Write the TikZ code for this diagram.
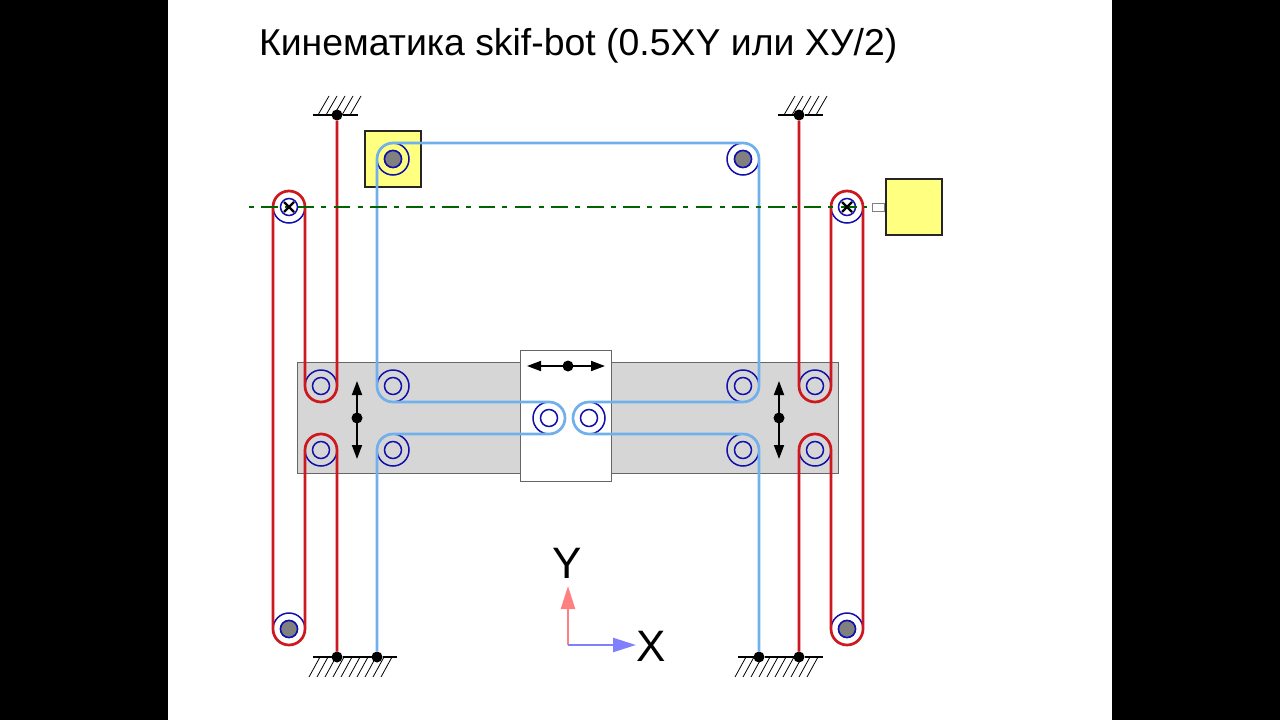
\documentclass[tikz,border=0pt]{standalone}
\usepackage{fontspec}
\setmainfont{Liberation Sans}
\usetikzlibrary{arrows.meta, calc, positioning}

\definecolor{beltred}{RGB}{204,24,30}
\definecolor{beltblue}{RGB}{112,176,236}
\definecolor{axisred}{RGB}{255,128,128}
\definecolor{axisblue}{RGB}{128,128,255}
\definecolor{pulleyblue}{RGB}{16,16,170}
\definecolor{motoryellow}{RGB}{255,255,128}
\definecolor{plategray}{RGB}{214,214,214}
\definecolor{axlegreen}{RGB}{0,100,0}

\tikzset{
  pulley/.style={draw=pulleyblue, circle, line width=1.5pt, minimum size=32pt, inner sep=0pt, outer sep=0pt},
  hub/.style={draw=pulleyblue, circle, line width=1.5pt, minimum size=17pt, inner sep=0pt, outer sep=0pt},
  pivot/.style={circle, fill=black, minimum size=11pt, inner sep=0pt, outer sep=0pt},
  motorbox/.style={draw=black!85, fill=motoryellow, line width=1.5pt, minimum size=56pt, inner sep=0pt},
  redbelt/.style={draw=beltred, line width=2.7pt},
  bluebelt/.style={draw=beltblue, line width=2.7pt},
  ground/.style={draw=black, line width=1.9pt},
  hatch/.style={draw=black, line width=0.8pt},
  motion/.style={draw=black, line width=1.8pt, {Triangle[length=14pt,width=10pt]}-{Triangle[length=14pt,width=10pt]}},
  axisarrow/.style={line width=2.4pt, -{Triangle[length=23pt,width=14pt]}},
}

\begin{document}
\begin{tikzpicture}[x=1pt, y=-1pt]

    \useasboundingbox (0,0) rectangle (1280,720);
    \fill[black] (0,0) rectangle (1280,720);
    \fill[white] (168,0) rectangle (1112,720);

    \node[anchor=west, font=\fontsize{37.4}{40}\selectfont] (title) at (255.5,45.5) {Кинематика skif-bot (0.5XY или ХУ/2)};

    % Plates of the moving beam and carriage
    \node[draw=black!60, fill=plategray, line width=1pt, minimum width=541pt, minimum height=111pt, inner sep=0pt] (beam) at (567.5,417.5) {};
    \node[draw=black!60, fill=white, line width=1pt, minimum width=91pt, minimum height=131pt, inner sep=0pt] (carriage) at (565.5,415.5) {};

    % Motors
    \node[motorbox] (motora) at (393,159) {};
    \node[motorbox] (motorb) at (914,207) {};
    \node[draw=black!50, fill=white, line width=1pt, minimum width=12pt, minimum height=8pt, inner sep=0pt, left=0pt of motorb] (shaft) {};

    % Pulleys
    \foreach \pname/\px/\py in {dl/393/159, dr/743/159, sl/289/207, sr/847/207, el/289/629, er/847/629,
        ula/321/386, ulb/393/386, lla/321/450, llb/393/450, urb/743/386, ura/815/386, lrb/743/450, lra/815/450,
        cl/549/418, cr/589/418} {
        \node[pulley] (\pname) at (\px,\py) {};
        \node[hub] (\pname hub) at (\px,\py) {};
    }
    \foreach \pname in {dl, dr, el, er} {
        \node[hub, fill=black!50] (\pname fill) at (\pname) {};
    }

    % Frame fixings
    \node[pivot] (fixa) at (337,115) {};
    \node[pivot] (fixb) at (799,115) {};
    \node[pivot] (fixc) at (337,657) {};
    \node[pivot] (fixd) at (377,657) {};
    \node[pivot] (fixe) at (759,657) {};
    \node[pivot] (fixf) at (799,657) {};

    \foreach \hx in {318,326,...,350} {
        \draw[hatch] (\hx,115) -- ++(11,-19);
    }
    \foreach \hx in {784,792,...,816} {
        \draw[hatch] (\hx,115) -- ++(11,-19);
    }
    \foreach \hx in {320,328,...,392} {
        \draw[hatch] (\hx,657) -- ++(-11,20);
    }
    \foreach \hx in {746,754,...,818} {
        \draw[hatch] (\hx,657) -- ++(-11,20);
    }
    \draw[ground] (313,115) -- (fixa) -- (358,115);
    \draw[ground] (778,115) -- (fixb) -- (823,115);
    \draw[ground] (313,657) -- (fixc) -- (fixd) -- (397,657);
    \draw[ground] (738,657) -- (fixe) -- (fixf) -- (823,657);

    % Red belts
    \draw[redbelt] (fixa) -- (ula.east) arc[start angle=0, end angle=180, radius=16]
        -- (sl.east) arc[start angle=0, end angle=-180, radius=16]
        -- (el.west) arc[start angle=180, end angle=0, radius=16]
        -- (lla.west) arc[start angle=180, end angle=360, radius=16]
        -- (fixc);
    \draw[redbelt] (fixb) -- (ura.west) arc[start angle=180, end angle=0, radius=16]
        -- (sr.west) arc[start angle=180, end angle=360, radius=16]
        -- (er.east) arc[start angle=0, end angle=180, radius=16]
        -- (lra.east) arc[start angle=0, end angle=-180, radius=16]
        -- (fixf);

    % Blue belt
    \draw[bluebelt] (fixd) -- (llb.west) arc[start angle=180, end angle=270, radius=16]
        -- (cl.south) arc[start angle=90, end angle=-90, radius=16]
        -- (ulb.south) arc[start angle=90, end angle=180, radius=16]
        -- (dl.west) arc[start angle=180, end angle=270, radius=16]
        -- (dr.north) arc[start angle=270, end angle=360, radius=16]
        -- (urb.east) arc[start angle=0, end angle=90, radius=16]
        -- (cr.north) arc[start angle=270, end angle=90, radius=16]
        -- (lrb.north) arc[start angle=270, end angle=360, radius=16]
        -- (fixe);

    % Shaft line
    \draw[axlegreen, line width=2.2pt, dash pattern=on 16.5pt off 7.3pt on 5pt off 7.4pt, dash phase=23.8pt] (249,207) -- (867,207);

    % Crosses on the driven shaft
    \foreach \pname in {sl, sr} {
        \draw[line width=2.2pt] ($(\pname)+(-5,-5)$) -- ($(\pname)+(5,5)$);
        \draw[line width=2.2pt] ($(\pname)+(-5,5)$) -- ($(\pname)+(5,-5)$);
    }

    % Motion arrows
    \coordinate (beamltop) at (357,381);
    \coordinate (beamlbot) at (357,459);
    \coordinate (beamrtop) at (779,381);
    \coordinate (beamrbot) at (779,459);
    \coordinate (cartleft) at (527,366);
    \coordinate (cartright) at (605,366);
    \draw[motion] (beamltop) -- (beamlbot);
    \draw[motion] (beamrtop) -- (beamrbot);
    \draw[motion] (cartleft) -- (cartright);
    \node[pivot] (beamlmid) at (357,418) {};
    \node[pivot] (beamrmid) at (779,418) {};
    \node[pivot] (cartmid) at (568,366) {};

    % Axes
    \coordinate (origin) at (568,645);
    \node[font=\fontsize{44}{44}\selectfont, inner sep=0pt] (ylabel) at (567,563) {Y};
    \node[font=\fontsize{44}{44}\selectfont, inner sep=0pt] (xlabel) at (651,646) {X};
    \coordinate (ytip) at (568,586);
    \coordinate (xtip) at (636,645);
    \draw[axisarrow, axisred] (origin) -- (ytip);
    \draw[axisarrow, axisblue] (origin) -- (xtip);

\end{tikzpicture}
\end{document}
